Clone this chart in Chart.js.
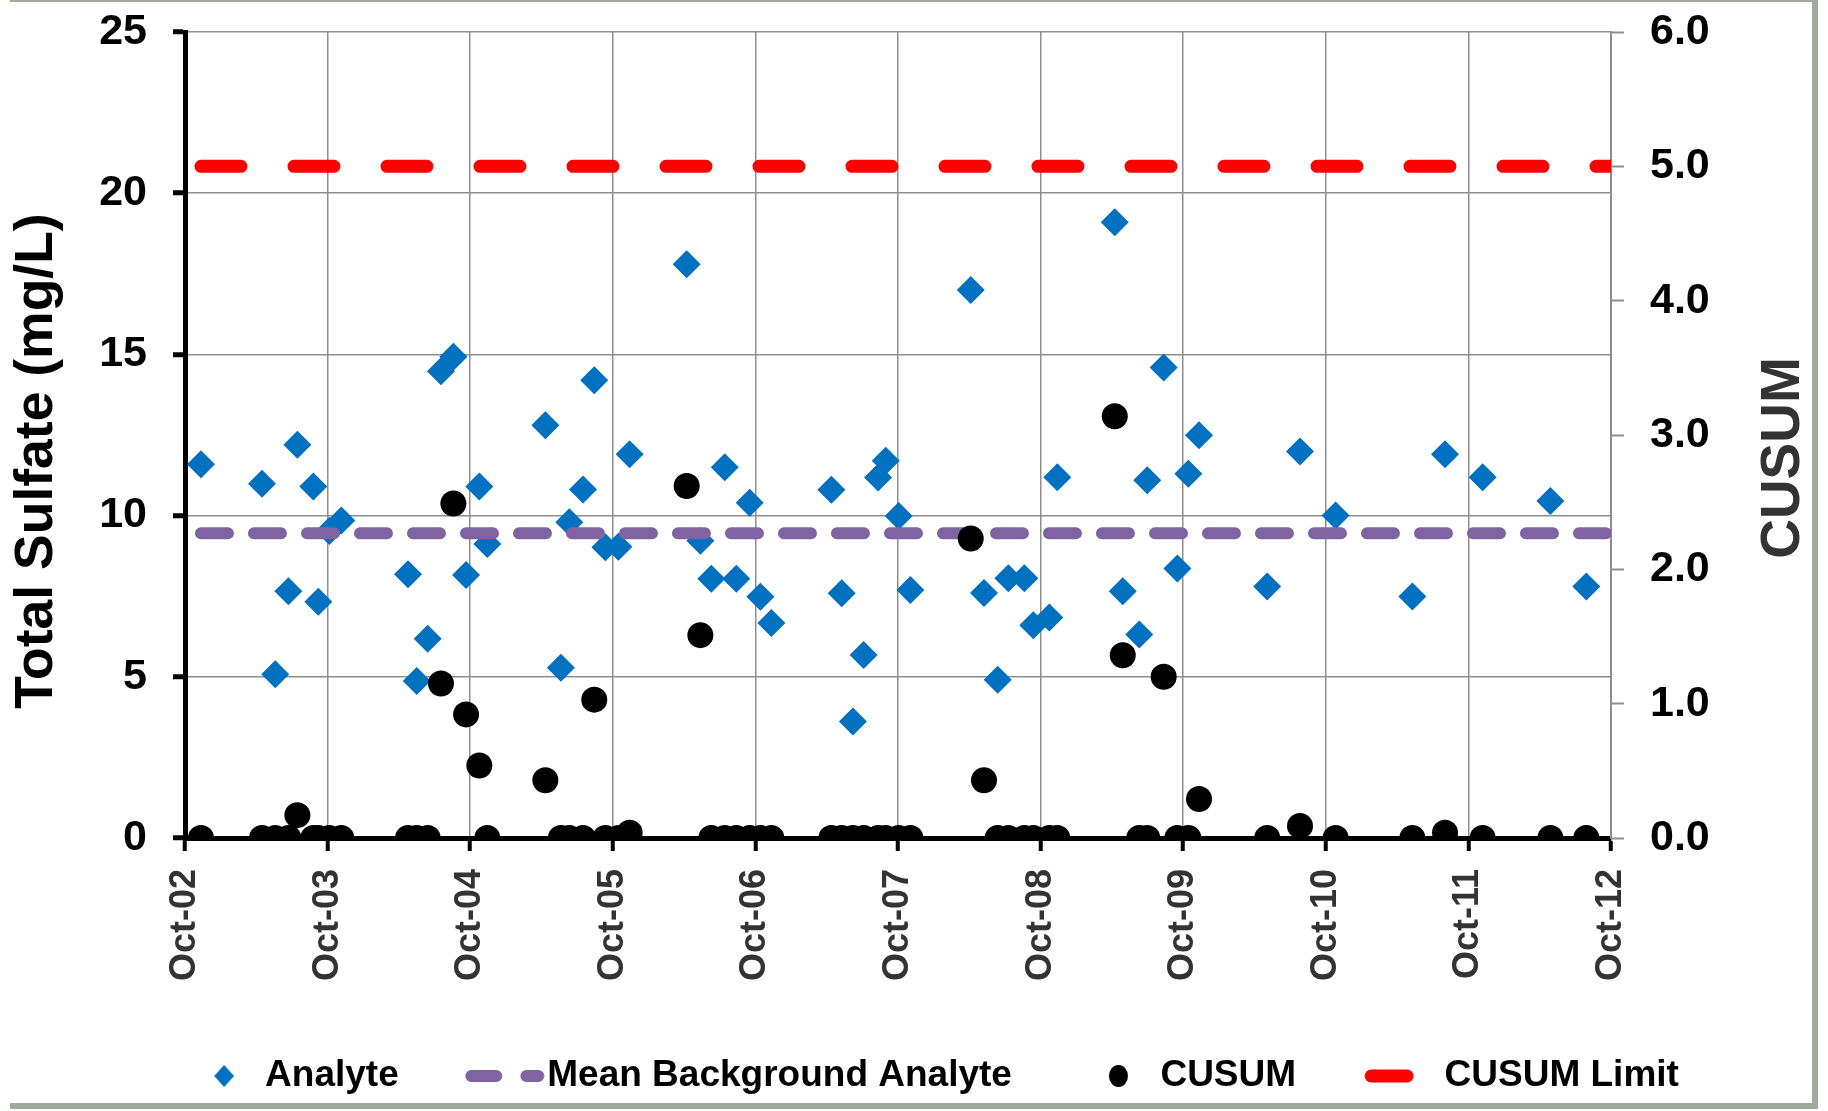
<!DOCTYPE html>
<html lang="en">
<head>
<meta charset="utf-8">
<title>Total Sulfate - CUSUM</title>
<script src="https://cdn.jsdelivr.net/npm/chart.js@4.4.1/dist/chart.umd.min.js"></script>
<style>
  html, body { margin: 0; padding: 0; background: #fff; overflow: hidden; }
  #wrap { position: relative; width: 1828px; height: 1111px; }
  #myChart { position: absolute; left: 0; top: 0; }
  #frame {
    position: absolute; left: 10px; top: 0; width: 1808px; height: 1109px;
    box-sizing: border-box; pointer-events: none;
    border-top: 2px solid #a2aa9b; border-right: 6px solid #a2aa9b; border-bottom: 6px solid #a2aa9b;
  }
</style>
</head>
<body>
<div id="wrap">
  <canvas id="myChart" width="1828" height="1111"></canvas>
  <div id="frame"></div>
</div>
<script>
// sample dates as decimal years
const sampleDates = [
  2002.862, 2003.290, 2003.383, 2003.475, 2003.538, 2003.650, 2003.685, 2003.762, 2003.846,
  2004.314, 2004.375, 2004.452, 2004.545, 2004.632, 2004.721, 2004.814, 2004.870,
  2005.277, 2005.386, 2005.445, 2005.541, 2005.620, 2005.698, 2005.789, 2005.868,
  2006.268, 2006.364, 2006.441, 2006.535, 2006.616, 2006.710, 2006.785, 2006.862,
  2007.283, 2007.355, 2007.434, 2007.509, 2007.610, 2007.664, 2007.755, 2007.837,
  2008.260, 2008.353, 2008.449, 2008.524, 2008.636, 2008.699, 2008.811, 2008.867,
  2009.270, 2009.326, 2009.442, 2009.498, 2009.613, 2009.709, 2009.786, 2009.861,
  2010.339, 2010.569, 2010.819,
  2011.357, 2011.586, 2011.850,
  2012.325, 2012.577
];

// total sulfate (mg/L)
const analyte = [
  11.59, 10.99, 5.08, 7.65, 12.20, 10.90, 7.33, 9.52, 9.85,
  8.18, 4.87, 6.18, 14.48, 14.93, 8.16, 10.90, 9.12,
  12.80, 5.28, 9.79, 10.81, 14.20, 9.02, 9.03, 11.90,
  17.80, 9.22, 8.04, 11.50, 8.04, 10.40, 7.48, 6.67,
  10.80, 7.59, 3.61, 5.68, 11.18, 11.70, 9.99, 7.69,
  17.00, 7.60, 4.91, 8.06, 8.06, 6.60, 6.84, 11.19,
  19.10, 7.65, 6.31, 11.10, 14.59, 8.36, 11.30, 12.49,
  7.80, 11.99, 10.00,
  7.49, 11.90, 11.19,
  10.45, 7.80
];

// CUSUM (right axis)
const cusum = [
  0, 0, 0, 0, 0.17, 0, 0, 0, 0,
  0, 0, 0, 1.15, 2.49, 0.92, 0.54, 0,
  0.43, 0, 0, 0, 1.03, 0, 0, 0.04,
  2.62, 1.51, 0, 0, 0, 0, 0, 0,
  0, 0, 0, 0, 0, 0, 0, 0,
  2.23, 0.43, 0, 0, 0, 0, 0, 0,
  3.14, 1.36, 0, 0, 1.20, 0, 0, 0.29,
  0, 0.09, 0,
  0, 0.04, 0,
  0, 0
];

const meanBackground = 9.45;
const cusumLimit = 5.0;

const tickLabels = ["Oct-02", "Oct-03", "Oct-04", "Oct-05", "Oct-06", "Oct-07",
  "Oct-08", "Oct-09", "Oct-10", "Oct-11", "Oct-12"];
const axisStart = 2002.75;
const axisEnd = 2012.75;

const FONT = "'Liberation Sans', Arial, Helvetica, sans-serif";
const BLUE = "#0070c0";
const PURPLE = "#8064a2";
const RED = "#ff0000";
const GRID = "#8e8e8e";

// legend samples, drawn on small canvases (centre of canvas = centre of legend box)
function marker(draw) {
  const c = document.createElement("canvas");
  c.width = 140;
  c.height = 26;
  const g = c.getContext("2d");
  g.translate(70, 13);
  draw(g);
  return c;
}
const legendDiamond = marker((g) => {
  g.fillStyle = BLUE;
  g.beginPath();
  g.moveTo(5.5, 0); g.lineTo(15.5, -11); g.lineTo(25.5, 0); g.lineTo(15.5, 11);
  g.closePath();
  g.fill();
});
const legendMean = marker((g) => {
  g.strokeStyle = PURPLE;
  g.lineWidth = 12;
  g.lineCap = "round";
  g.beginPath();
  g.moveTo(-19.5, 0); g.lineTo(5.5, 0);
  g.moveTo(35.5, 0); g.lineTo(47.5, 0);
  g.stroke();
});
const legendDot = marker((g) => {
  g.fillStyle = "#000";
  g.beginPath();
  g.ellipse(14.5, 0, 9.5, 11, 0, 0, Math.PI * 2);
  g.fill();
});
const legendLimit = marker((g) => {
  g.strokeStyle = RED;
  g.lineWidth = 13;
  g.lineCap = "round";
  g.beginPath();
  g.moveTo(-17, 0); g.lineTo(19, 0);
  g.stroke();
});

// axis titles (both read bottom to top)
const axisTitles = {
  id: "axisTitles",
  afterDraw(chart) {
    const { ctx, chartArea } = chart;
    const midY = (chartArea.top + chartArea.bottom) / 2;
    ctx.save();
    ctx.textAlign = "center";
    ctx.textBaseline = "middle";
    ctx.fillStyle = "#000";
    ctx.font = "bold 53.5px " + FONT;
    ctx.translate(chartArea.left - 148, midY + 26);
    ctx.rotate(-Math.PI / 2);
    ctx.fillText("Total Sulfate (mg/L)", 0, 0);
    ctx.restore();

    ctx.save();
    ctx.textAlign = "center";
    ctx.textBaseline = "middle";
    ctx.fillStyle = "#333";
    ctx.font = "bold 55px " + FONT;
    ctx.translate(chartArea.right + 173, midY + 23);
    ctx.rotate(-Math.PI / 2);
    ctx.fillText("CUSUM", 0, 0);
    ctx.restore();
  }
};

// keep the plot area where the original has it
function fixWidth(w) {
  return (scale) => {
    scale.width = w;
    scale.paddingTop = 0;
    scale.paddingBottom = 0;
  };
}

document.addEventListener("DOMContentLoaded", function () {
  const ctx = document.getElementById("myChart");

  new Chart(ctx, {
    type: "scatter",
    data: {
      datasets: [
        {
          label: "Analyte",
          data: sampleDates.map((d, i) => ({ x: d, y: analyte[i] })),
          yAxisID: "y",
          pointStyle: "rectRot",
          pointRadius: 14,
          backgroundColor: BLUE,
          borderColor: BLUE,
          borderWidth: 0,
          order: 4,
        },
        {
          label: "Mean Background Analyte",
          data: [{ x: sampleDates[0], y: meanBackground }, { x: axisEnd, y: meanBackground }],
          yAxisID: "y",
          showLine: true,
          pointRadius: 0,
          borderColor: PURPLE,
          borderWidth: 12,
          borderDash: [27, 26],
          borderCapStyle: "round",
          order: 3,
        },
        {
          label: "CUSUM",
          data: sampleDates.map((d, i) => ({ x: d, y: cusum[i] })),
          yAxisID: "yR",
          pointStyle: "circle",
          pointRadius: 13,
          backgroundColor: "#000",
          borderColor: "#000",
          borderWidth: 0,
          order: 2,
        },
        {
          label: "CUSUM Limit",
          data: [{ x: sampleDates[0], y: cusumLimit }, { x: axisEnd, y: cusumLimit }],
          yAxisID: "yR",
          showLine: true,
          pointRadius: 0,
          borderColor: RED,
          borderWidth: 13,
          borderDash: [40, 53],
          borderCapStyle: "round",
          order: 1,
        },
      ],
    },
    options: {
      responsive: false,
      devicePixelRatio: 1,
      animation: false,
      events: [],
      layout: { padding: { top: 32, left: 21.5, right: 0, bottom: 6.5 } },
      scales: {
        x: {
          type: "linear",
          min: axisStart,
          max: axisEnd,
          afterBuildTicks: (axis) => {
            axis.ticks = tickLabels.map((_, i) => ({ value: axisStart + i }));
          },
          afterFit: (scale) => { scale.height = 165.5; },
          ticks: {
            minRotation: 90,
            maxRotation: 90,
            padding: 18,
            color: "#333",
            font: { family: FONT, size: 36, weight: "bold" },
            callback: (value, index) => tickLabels[index],
          },
          grid: { color: GRID, lineWidth: 1.5, tickColor: "#000", tickLength: 13, tickWidth: 4 },
          border: { color: "#000", width: 5 },
        },
        y: {
          position: "left",
          min: 0,
          max: 25,
          afterFit: fixWidth(163.5),
          ticks: {
            stepSize: 5,
            padding: 26,
            color: "#000",
            font: { family: FONT, size: 43, weight: "bold" },
          },
          grid: { color: GRID, lineWidth: 1.5, tickColor: "#000", tickLength: 12, tickWidth: 5 },
          border: { color: "#000", width: 5 },
        },
        yR: {
          position: "right",
          min: 0,
          max: 6,
          afterFit: fixWidth(217),
          ticks: {
            stepSize: 1,
            padding: 26,
            color: "#000",
            font: { family: FONT, size: 43, weight: "bold" },
            callback: (value) => value.toFixed(1),
          },
          grid: { drawOnChartArea: false, color: GRID, tickColor: GRID, tickLength: 13, tickWidth: 2 },
          border: { color: GRID, width: 2 },
        },
      },
      plugins: {
        tooltip: { enabled: false },
        legend: {
          position: "bottom",
          labels: {
            usePointStyle: true,
            pointStyleWidth: 76,
            boxHeight: 15,
            padding: 54,
            color: "#000",
            font: { family: FONT, size: 37, weight: "bold" },
            generateLabels: (chart) => {
              const ds = chart.data.datasets;
              const samples = [legendDiamond, legendMean, legendDot, legendLimit];
              return ds.map((d, i) => ({
                text: d.label,
                pointStyle: samples[i],
                fillStyle: d.borderColor,
                strokeStyle: d.borderColor,
                lineWidth: 0,
                datasetIndex: i,
              }));
            },
          },
        },
      },
    },
    plugins: [axisTitles],
  });
});
</script>
</body>
</html>
